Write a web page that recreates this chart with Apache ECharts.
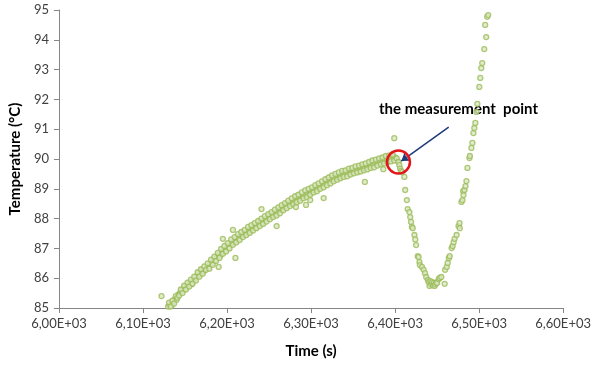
<!DOCTYPE html>
<html>
<head>
<meta charset="utf-8">
<script src="https://cdn.jsdelivr.net/npm/echarts@6/dist/echarts.min.js"></script>
<style>
  html, body { margin: 0; padding: 0; background: #fff; }
  #chart { width: 594px; height: 367px; }
</style>
</head>
<body>
<div id="chart"></div>
<script>
// x axis ticks (seconds) and how Excel printed them
const xTicks = [6000, 6100, 6200, 6300, 6400, 6500, 6600]
const xTickLabels = ['6,00E+03', '6,10E+03', '6,20E+03', '6,30E+03', '6,40E+03', '6,50E+03', '6,60E+03']

// slow heating part [time, temperature], even seconds
const risingPoints = [
  [6130, 85.05], [6132, 85.12], [6134, 85.08], [6136, 85.22], [6138, 85.30], [6140, 85.28],
  [6142, 85.45], [6144, 85.50], [6146, 85.58], [6148, 85.62], [6150, 85.72], [6152, 85.68],
  [6154, 85.78], [6156, 85.85], [6158, 85.80], [6160, 85.92], [6162, 86.00], [6164, 86.05],
  [6166, 86.15], [6168, 86.12], [6170, 86.25], [6172, 86.22], [6174, 86.30], [6176, 86.38],
  [6178, 86.35], [6180, 86.48], [6182, 86.50], [6184, 86.62], [6186, 86.60], [6188, 86.70],
  [6190, 86.78], [6192, 86.75], [6194, 86.88], [6196, 86.92], [6198, 86.95], [6200, 87.05],
  [6202, 87.02], [6204, 87.15], [6206, 87.18], [6208, 87.22], [6210, 87.25], [6212, 87.35],
  [6214, 87.32], [6216, 87.42], [6218, 87.45], [6220, 87.48], [6222, 87.55], [6224, 87.52],
  [6226, 87.62], [6228, 87.60], [6230, 87.68], [6232, 87.72], [6234, 87.70], [6236, 87.80],
  [6238, 87.82], [6240, 87.88], [6242, 87.85], [6244, 87.95], [6246, 87.98], [6248, 88.00],
  [6250, 88.08], [6252, 88.05], [6254, 88.12], [6256, 88.18], [6258, 88.15], [6260, 88.25],
  [6262, 88.28], [6264, 88.30], [6266, 88.35], [6268, 88.42], [6270, 88.40], [6272, 88.48],
  [6274, 88.50], [6276, 88.55], [6278, 88.52], [6280, 88.60], [6282, 88.62], [6284, 88.65],
  [6286, 88.70], [6288, 88.68], [6290, 88.75], [6292, 88.78], [6294, 88.80], [6296, 88.85],
  [6298, 88.82], [6300, 88.90], [6302, 88.95], [6304, 88.98], [6306, 89.02], [6308, 89.00],
  [6310, 89.08], [6312, 89.12], [6314, 89.10], [6316, 89.18], [6318, 89.22], [6320, 89.20],
  [6322, 89.28], [6324, 89.30], [6326, 89.35], [6328, 89.32], [6330, 89.38], [6332, 89.42],
  [6334, 89.40], [6336, 89.45], [6338, 89.48], [6340, 89.50], [6342, 89.52], [6344, 89.50],
  [6346, 89.58], [6348, 89.55], [6350, 89.60], [6352, 89.62], [6354, 89.58], [6356, 89.65],
  [6358, 89.68], [6360, 89.65], [6362, 89.70], [6364, 89.72], [6366, 89.70], [6368, 89.75],
  [6370, 89.78], [6372, 89.80], [6374, 89.82], [6376, 89.85], [6378, 89.88], [6380, 89.86],
  [6382, 89.92], [6384, 89.95], [6386, 89.92], [6388, 90.00], [6390, 89.98], [6392, 90.02],
  [6394, 90.05], [6396, 90.00], [6398, 90.08], [6400, 90.05]
]

// same part, odd seconds (noisier)
const risingPointsOdd = [
  [6131, 85.18], [6133, 85.05], [6135, 85.25], [6137, 85.15], [6139, 85.40], [6141, 85.35],
  [6143, 85.42], [6145, 85.62], [6147, 85.50], [6149, 85.75], [6151, 85.62], [6153, 85.85],
  [6155, 85.72], [6157, 85.95], [6159, 85.82], [6161, 86.05], [6163, 85.92], [6165, 86.20],
  [6167, 86.05], [6169, 86.30], [6171, 86.15], [6173, 86.40], [6175, 86.28], [6177, 86.50],
  [6179, 86.32], [6181, 86.62], [6183, 86.45], [6185, 86.72], [6187, 86.58], [6189, 86.85],
  [6191, 86.68], [6193, 86.98], [6195, 86.82], [6197, 87.08], [6199, 86.90], [6201, 87.18],
  [6203, 87.00], [6205, 87.30], [6207, 87.12], [6209, 87.38], [6211, 87.20], [6213, 87.48],
  [6215, 87.28], [6217, 87.55], [6219, 87.38], [6221, 87.62], [6223, 87.45], [6225, 87.72],
  [6227, 87.52], [6229, 87.78], [6231, 87.60], [6233, 87.85], [6235, 87.68], [6237, 87.92],
  [6239, 87.75], [6241, 88.00], [6243, 87.82], [6245, 88.08], [6247, 87.90], [6249, 88.15],
  [6251, 87.98], [6253, 88.22], [6255, 88.05], [6257, 88.30], [6259, 88.10], [6261, 88.38],
  [6263, 88.18], [6265, 88.45], [6267, 88.28], [6269, 88.52], [6271, 88.35], [6273, 88.60],
  [6275, 88.42], [6277, 88.68], [6279, 88.48], [6281, 88.75], [6283, 88.55], [6285, 88.80],
  [6287, 88.60], [6289, 88.88], [6291, 88.68], [6293, 88.95], [6295, 88.72], [6297, 89.00],
  [6299, 88.80], [6301, 89.05], [6303, 88.88], [6305, 89.12], [6307, 88.92], [6309, 89.18],
  [6311, 89.00], [6313, 89.25], [6315, 89.05], [6317, 89.32], [6319, 89.12], [6321, 89.38],
  [6323, 89.18], [6325, 89.45], [6327, 89.25], [6329, 89.50], [6331, 89.30], [6333, 89.55],
  [6335, 89.35], [6337, 89.60], [6339, 89.40], [6341, 89.62], [6343, 89.42], [6345, 89.68],
  [6347, 89.48], [6349, 89.70], [6351, 89.52], [6353, 89.75], [6355, 89.55], [6357, 89.78],
  [6359, 89.58], [6361, 89.82], [6363, 89.62], [6365, 89.85], [6367, 89.65], [6369, 89.90],
  [6371, 89.70], [6373, 89.95], [6375, 89.72], [6377, 89.98], [6379, 89.78], [6381, 90.02],
  [6383, 89.82], [6385, 90.05], [6387, 89.85], [6389, 90.10], [6391, 89.90], [6393, 90.12],
  [6395, 89.92], [6397, 90.15], [6399, 89.95]
]

// stray points off the main band
const outlierPoints = [
  [6122, 85.40], [6190, 86.38], [6195, 87.32], [6207, 87.62], [6210, 86.68], [6241, 88.32],
  [6259, 87.75], [6282, 88.39], [6294, 88.46], [6299, 88.62], [6315, 88.69], [6364, 89.23],
  [6386, 89.66], [6399, 90.70]
]

// drop after the measurement point, minimum and fast rise
const dropPoints = [
  [6402, 90.02], [6404, 89.90], [6405, 89.80], [6406, 89.68], [6407, 89.60], [6408.6, 89.56],
  [6411, 89.40], [6412, 88.96], [6414, 88.62], [6415, 88.32], [6417, 88.22], [6418, 88.05],
  [6419, 87.89], [6420, 87.72], [6421, 87.68], [6423, 87.45], [6424, 87.30], [6425, 87.11],
  [6427, 86.74], [6428, 86.71], [6429, 86.54], [6429.5, 86.44], [6432, 86.38], [6434, 86.28],
  [6435.6, 86.17], [6437, 86.04], [6439, 85.94], [6440, 85.87], [6441, 85.74], [6442, 85.90],
  [6443, 85.80], [6444, 85.87], [6445, 85.76], [6446, 85.84], [6447, 85.74], [6448, 85.80],
  [6449, 85.86], [6450, 85.84], [6452, 85.97], [6453, 86.01], [6455, 86.04], [6459, 85.81],
  [6459.5, 86.28], [6461.5, 86.38], [6462.6, 86.51], [6464, 86.68], [6465, 86.74], [6467.3, 87.01],
  [6468.5, 87.08], [6469.7, 87.21], [6470.8, 87.32], [6473.2, 87.45], [6475.5, 87.75], [6476.7, 87.85],
  [6477, 87.68], [6479, 88.56], [6480.2, 88.62], [6481, 88.92], [6481.4, 88.79], [6482.6, 88.96],
  [6483.8, 89.09], [6484.9, 89.26], [6486.1, 89.70], [6488.5, 90.03], [6489, 90.10], [6490.8, 90.37],
  [6492, 90.54], [6493.2, 90.87], [6494.3, 91.04], [6495.5, 91.21], [6496.7, 91.58], [6497.9, 91.85],
  [6500.2, 92.42], [6501.4, 92.72], [6502.5, 93.05], [6503.7, 93.22], [6506.1, 93.69], [6507.2, 94.50],
  [6508.4, 94.09], [6509.6, 94.77], [6510.8, 94.83]
]

// annotation
const measurePoint = [6404, 89.9]
const arrowFrom = [6463.8, 91.07]
const arrowTo = [6407.4, 89.93]

const chart = echarts.init(document.getElementById('chart'))

const axisFont = 'Lato, "DejaVu Sans", sans-serif'
const markerStyle = {
  color: '#dbe7c3',
  borderColor: '#9bbb59',
  borderWidth: 1.3,
}

const option = {
  animation: false,
  backgroundColor: '#fff',
  grid: { left: 57, right: 26, top: 10, bottom: 59 },
  xAxis: {
    type: 'value',
    min: 6000,
    max: 6600,
    interval: 100,
    name: 'Time (s)',
    nameLocation: 'middle',
    nameGap: 36,
    nameTextStyle: { color: '#000', fontSize: 15, fontWeight: 'bold', fontFamily: axisFont },
    splitLine: { show: false },
    axisLine: { lineStyle: { color: '#868686', width: 1 } },
    axisTick: { show: true, length: 5, lineStyle: { color: '#868686' } },
    axisLabel: {
      color: '#404040',
      fontSize: 13,
      fontFamily: axisFont,
      margin: 9,
      formatter: v => xTickLabels[xTicks.indexOf(v)] || '',
    },
  },
  yAxis: {
    type: 'value',
    min: 85,
    max: 95,
    interval: 1,
    name: 'Temperature (°C)',
    nameLocation: 'middle',
    nameGap: 33,
    nameTextStyle: { color: '#000', fontSize: 15, fontWeight: 'bold', fontFamily: axisFont },
    splitLine: { show: false },
    axisLine: { show: true, lineStyle: { color: '#868686', width: 1 } },
    axisTick: { show: true, length: 5, lineStyle: { color: '#868686' } },
    axisLabel: { color: '#404040', fontSize: 13, fontFamily: axisFont, margin: 10 },
  },
  graphic: [
    {
      type: 'text',
      left: 379,
      top: 102,
      style: {
        text: 'the measurement  point',
        fill: '#000',
        font: 'bold 15px Lato, "DejaVu Sans", sans-serif',
      },
    },
  ],
  series: [
    {
      name: 'rising',
      type: 'scatter',
      symbol: 'circle',
      symbolSize: 5,
      itemStyle: markerStyle,
      data: risingPoints,
    },
    {
      name: 'rising odd',
      type: 'scatter',
      symbol: 'circle',
      symbolSize: 5,
      itemStyle: markerStyle,
      data: risingPointsOdd,
    },
    {
      name: 'outliers',
      type: 'scatter',
      symbol: 'circle',
      symbolSize: 5,
      itemStyle: markerStyle,
      data: outlierPoints,
    },
    {
      name: 'drop',
      type: 'scatter',
      symbol: 'circle',
      symbolSize: 5,
      itemStyle: markerStyle,
      data: dropPoints,
      markPoint: {
        silent: true,
        symbol: 'circle',
        symbolSize: 23,
        itemStyle: { color: 'transparent', borderColor: '#e3171b', borderWidth: 2.5 },
        label: { show: false },
        data: [{ coord: measurePoint }],
      },
      markLine: {
        silent: true,
        symbol: ['none', 'arrow'],
        symbolSize: 8,
        label: { show: false },
        lineStyle: { color: '#1f3a7a', width: 1.5, type: 'solid' },
        data: [[{ coord: arrowFrom }, { coord: arrowTo }]],
      },
    },
  ],
}
chart.setOption(option)
</script>
</body>
</html>
